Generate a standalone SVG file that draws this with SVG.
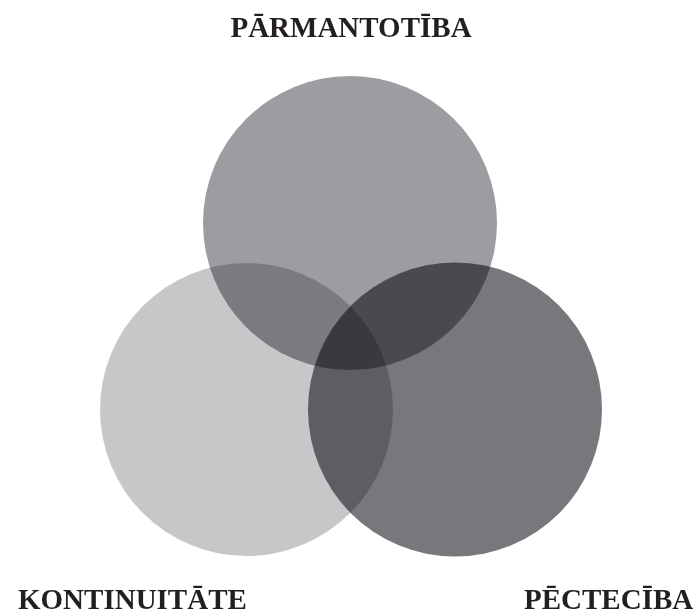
<svg xmlns="http://www.w3.org/2000/svg" width="695" height="616" viewBox="0 0 695 616">
<style>
.c{mix-blend-mode:multiply}
.t{font-family:"Liberation Serif","Times New Roman",serif;font-weight:bold;font-size:29px;fill:#231f20}
</style>
<rect width="695" height="616" fill="#ffffff"/>
<g id="circles" style="isolation:isolate">
<g id="parmantotiba"><circle class="c" cx="350" cy="223" r="147" fill="#9c9da1"/></g>
<g id="kontinuitate"><circle class="c" cx="246.5" cy="409.5" r="146.5" fill="#c6c7c9"/></g>
<g id="pectetiba"><circle class="c" cx="455" cy="409.5" r="147" fill="#77787c"/></g>
</g>
<g id="connectors"/>
<g id="labels">
<text class="t" x="351" y="37" text-anchor="middle">PĀRMANTOTĪBA</text>
<text class="t" x="18" y="609">KONTINUITĀTE</text>
<text class="t" x="524" y="609">PĒCTECĪBA</text>
</g>
</svg>
